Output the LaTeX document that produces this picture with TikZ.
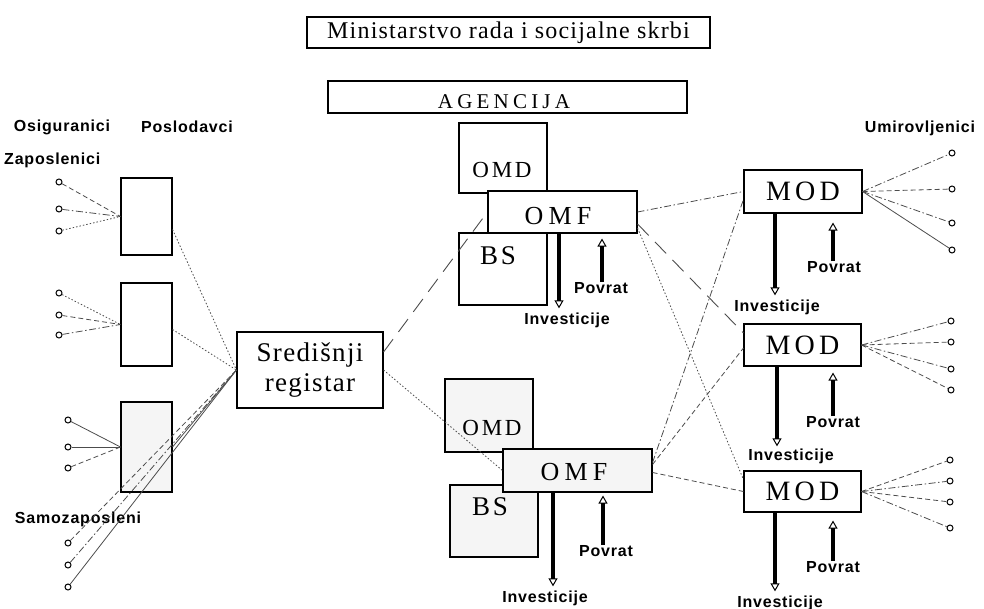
\documentclass[tikz,border=0pt]{standalone}
\usepackage{fontspec}
\setmainfont{Liberation Serif}
\newfontfamily\titlefont[LetterSpace=5]{Liberation Serif}
\newfontfamily\boxfont{Liberation Serif}
\newfontfamily\lblfont[LetterSpace=5]{Liberation Sans}
\usetikzlibrary{arrows.meta}

\begin{document}
\begin{tikzpicture}[x=1pt,y=-1pt,
  box/.style={draw,line width=1.1pt,fill=white,inner sep=0pt},
  shaded/.style={box,fill=black!4},
  boxtext/.style 2 args={font=\boxfont\fontsize{#1}{#1}\selectfont\addfontfeatures{LetterSpace=#2},inner sep=0pt},
  lbl/.style={font=\lblfont\bfseries\fontsize{16}{16}\selectfont,inner sep=0pt},
  member/.style={draw,circle,line width=1pt,minimum size=6pt,inner sep=0pt},
  thinlink/.style={black!70,line width=0.8pt},
  dashlink/.style={thinlink,dash pattern=on 5pt off 3pt},
  dotlink/.style={thinlink,dash pattern=on 1.5pt off 2pt},
  dashdotlink/.style={thinlink,dash pattern=on 7pt off 2.5pt on 1.5pt off 2.5pt},
  longlink/.style={thinlink,line width=0.9pt,dash pattern=on 16pt off 9pt},
  flow/.style={line width=3.5pt,-{Triangle[open,length=8pt,width=9pt,line width=1pt]}}]
\useasboundingbox (0,0) rectangle (984,609);

\node [box, minimum width=403pt, minimum height=31pt, font=\titlefont\fontsize{24}{24}\selectfont] (ministry) at (508.5,32.5) {Ministarstvo rada i socijalne skrbi};
\node [box, minimum width=359pt, minimum height=32pt] (agency) at (507.5,97) {};
\node [boxtext={21}{20}] (agencylabel) at (504,102) {AGENCIJA};

\node [lbl] (insured) at (62,127) {Osiguranici};
\node [lbl] (employers) at (187,127) {Poslodavci};
\node [lbl, anchor=west] (employed) at (4,160) {Zaposlenici};
\node [lbl] (selfemployed) at (78,519) {Samozaposleni};
\node [lbl] (retired) at (920,128) {Umirovljenici};

\node [box, minimum width=51pt, minimum height=77pt] (emp1) at (146.5,216.5) {};
\node [box, minimum width=51pt, minimum height=83pt] (emp2) at (146.5,324.5) {};
\node [shaded, minimum width=51pt, minimum height=90pt] (emp3) at (146.5,447) {};
\node [box, minimum width=146pt, minimum height=76pt, align=center, font=\titlefont\fontsize{27}{30}\selectfont] (registry) at (310,370) {Središnji\\registar};

\node [box, minimum width=88pt, minimum height=70pt] (omdup) at (503,158) {};
\node [box, minimum width=88pt, minimum height=72pt] (bsup) at (503,269) {};
\node [box, minimum width=149pt, minimum height=42pt] (omfup) at (562.5,212) {};
\node [boxtext={23}{12}] (omduplabel) at (502,170) {OMD};
\node [boxtext={27}{10}] (bsuplabel) at (498,256) {BS};
\node [boxtext={26}{20}] (omfuplabel) at (558,216) {OMF};

\node [shaded, minimum width=88pt, minimum height=73pt] (omddown) at (489,415.5) {};
\node [shaded, minimum width=88pt, minimum height=72pt] (bsdown) at (494,521) {};
\node [shaded, minimum width=149pt, minimum height=43pt] (omfdown) at (577.5,470.5) {};
\node [boxtext={23}{12}] (omddownlabel) at (492,428) {OMD};
\node [boxtext={27}{10}] (bsdownlabel) at (490,507) {BS};
\node [boxtext={26}{20}] (omfdownlabel) at (574,472) {OMF};

\node [box, minimum width=118pt, minimum height=43pt, boxtext={28}{15}] (mod1) at (803,191.5) {MOD};
\node [box, minimum width=117pt, minimum height=42pt, boxtext={28}{15}] (mod2) at (802.5,345) {MOD};
\node [box, minimum width=117pt, minimum height=41pt, boxtext={28}{15}] (mod3) at (802.5,491.5) {MOD};

\node [lbl] (invup) at (567,320) {Investicije};
\node [lbl] (retup) at (601,288) {Povrat};
\node [lbl] (invdown) at (545,598) {Investicije};
\node [lbl] (retdown) at (606,551) {Povrat};
\node [lbl] (inv1) at (777,307) {Investicije};
\node [lbl] (ret1) at (834,267) {Povrat};
\node [lbl] (inv2) at (791,456) {Investicije};
\node [lbl] (ret2) at (833,422) {Povrat};
\node [lbl] (inv3) at (780,603) {Investicije};
\node [lbl] (ret3) at (833,567) {Povrat};

\node [member] (p11) at (59,182) {};
\node [member] (p12) at (59,209) {};
\node [member] (p13) at (59,231) {};
\node [member] (p21) at (59,293) {};
\node [member] (p22) at (59,315) {};
\node [member] (p23) at (59,335) {};
\node [member] (p31) at (68,420) {};
\node [member] (p32) at (68,447) {};
\node [member] (p33) at (68,468) {};
\node [member] (s1) at (68,543) {};
\node [member] (s2) at (68,565) {};
\node [member] (s3) at (68,587) {};

\node [member] (r11) at (952,153) {};
\node [member] (r12) at (952,189) {};
\node [member] (r13) at (952,223) {};
\node [member] (r14) at (952,250) {};
\node [member] (r21) at (951,321) {};
\node [member] (r22) at (951,342) {};
\node [member] (r23) at (951,369) {};
\node [member] (r24) at (951,390) {};
\node [member] (r31) at (950,460) {};
\node [member] (r32) at (950,481) {};
\node [member] (r33) at (950,502) {};
\node [member] (r34) at (950,528) {};

\draw [dashlink] (p11) -- (emp1.west);
\draw [dashdotlink] (p12) -- (emp1.west);
\draw [dotlink] (p13) -- (emp1.west);
\draw [dotlink] (p21) -- (emp2.west);
\draw [dashlink] (p22) -- (emp2.west);
\draw [dashdotlink] (p23) -- (emp2.west);
\draw [thinlink] (p31) -- (emp3.west);
\draw [thinlink] (p32) -- (emp3.west);
\draw [dashlink] (p33) -- (emp3.west);

\draw [dotlink] ([yshift=-13pt]emp1.east) -- (registry.west);
\draw [dotlink] ([yshift=-5pt]emp2.east) -- (registry.west);
\draw [thinlink] (emp3.east) -- (registry.west);
\draw [dashlink] (s1) -- (registry.west);
\draw [dashdotlink] (s2) -- (registry.west);
\draw [thinlink] (s3) -- (registry.west);

\draw [longlink] ([yshift=18pt]registry.east) -- (omfup.west);
\draw [dotlink] (registry.east) -- (omfdown.west);

\draw [dashdotlink] (omfup.east) -- (mod1.west);
\draw [longlink] ([yshift=-12pt]omfup.east) -- ([yshift=12pt]mod2.west);
\draw [dotlink] ([yshift=-16pt]omfup.east) -- ([yshift=12pt]mod3.west);
\draw [dashdotlink] ([yshift=8pt]omfdown.east) -- ([yshift=-8pt]mod1.west);
\draw [dashlink] ([yshift=6pt]omfdown.east) -- ([yshift=-3pt]mod2.west);
\draw [dashlink] ([yshift=-2pt]omfdown.east) -- (mod3.west);

\draw [dashdotlink] (mod1.east) -- (r11);
\draw [dashlink] (mod1.east) -- (r12);
\draw [dashdotlink] (mod1.east) -- (r13);
\draw [thinlink] (mod1.east) -- (r14);
\draw [dashdotlink] (mod2.east) -- (r21);
\draw [dashlink] (mod2.east) -- (r22);
\draw [dashdotlink] (mod2.east) -- (r23);
\draw [dashlink] (mod2.east) -- (r24);
\draw [dashlink] (mod3.east) -- (r31);
\draw [dashdotlink] (mod3.east) -- (r32);
\draw [dashlink] (mod3.east) -- (r33);
\draw [dashdotlink] (mod3.east) -- (r34);

\draw [flow] ([xshift=-3.5pt]omfup.south) -- ([xshift=-3.5pt,yshift=4pt]omfup.south |- invup.north);
\draw [flow] (retup.north -| 602,0) -- ([yshift=-5pt]omfup.south -| 602,0);
\draw [flow] ([xshift=-24.5pt]omfdown.south) -- ([xshift=-24.5pt,yshift=4pt]omfdown.south |- invdown.north);
\draw [flow] (retdown.north -| 603,0) -- ([yshift=-3pt]omfdown.south -| 603,0);
\draw [flow] ([xshift=-28pt]mod1.south) -- ([xshift=-28pt,yshift=4pt]mod1.south |- inv1.north);
\draw [flow] (ret1.north -| 833,0) -- ([yshift=-9pt]mod1.south -| 833,0);
\draw [flow] ([xshift=-25.5pt]mod2.south) -- ([xshift=-25.5pt,yshift=2pt]mod2.south |- inv2.north);
\draw [flow] (ret2.north -| 833,0) -- ([yshift=-6pt]mod2.south -| 833,0);
\draw [flow] ([xshift=-27.5pt]mod3.south) -- ([xshift=-27.5pt,yshift=4pt]mod3.south |- inv3.north);
\draw [flow] (ret3.north -| 833,0) -- ([yshift=-8pt]mod3.south -| 833,0);
\end{tikzpicture}
\end{document}
